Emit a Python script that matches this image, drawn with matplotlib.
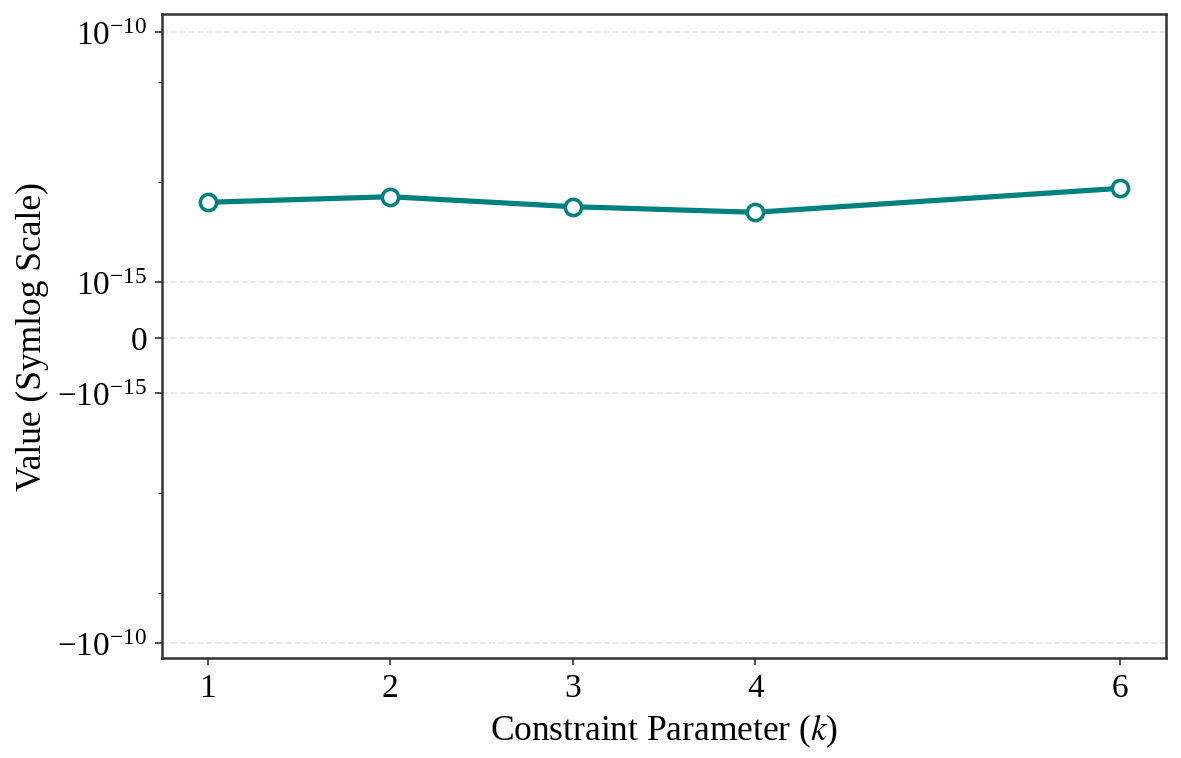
import matplotlib
matplotlib.use("Agg")
import matplotlib.pyplot as plt
from matplotlib.ticker import FixedLocator
import numpy as np

k_values = [1, 2, 3, 4, 6]
values = [3.93e-14, 5.08e-14, 3.21e-14, 2.48e-14, 7.48e-14]
major_yticks = [-1e-10, -1e-15, 0, 1e-15, 1e-10]
minor_yticks = [-1e-11, -1e-13, 1e-13, 1e-11]

plt.rcParams['font.family'] = ['Liberation Serif', 'DejaVu Serif']
plt.rcParams['mathtext.fontset'] = 'stix'

fig = plt.figure(figsize=(1181/150, 759/150), dpi=150)
ax = fig.add_axes([162/1181, 1-659/759, (1166-162)/1181, (659-15)/759])

ax.plot(k_values, values, color='#008080', linewidth=2.5, marker='o',
        markersize=7.8, markerfacecolor='white', markeredgecolor='#008080',
        markeredgewidth=1.7, zorder=3)

ax.set_yscale('symlog', linthresh=1e-15, linscale=1)
ax.set_ylim(-2.0e-10, 2.3e-10)
ax.yaxis.set_major_locator(FixedLocator(major_yticks))
ax.yaxis.set_minor_locator(FixedLocator(minor_yticks))
ax.set_xticks(k_values)
ax.set_xticklabels([str(k) for k in k_values])
ax.grid(True, which='major', axis='y', linestyle='--', color='#dddddd', linewidth=0.8, alpha=0.8)
ax.set_axisbelow(True)

for s in ax.spines.values():
    s.set_color('#333333')
    s.set_linewidth(1.2)
ax.tick_params(axis='both', which='both', colors='#333333', labelcolor='black')
ax.tick_params(axis='both', which='major', labelsize=16)
ax.set_xlabel('Constraint Parameter ($k$)', fontsize=17)
ax.set_ylabel('Value (Symlog Scale)', fontsize=17)

fig.savefig('out.png', dpi=150)
